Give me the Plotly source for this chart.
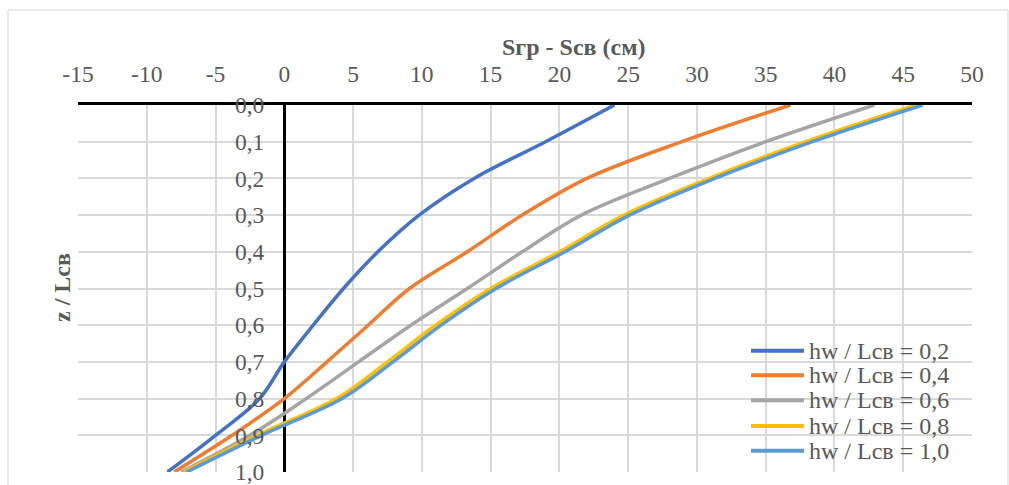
import plotly.graph_objects as go

z_vals = [0.0, 0.1, 0.2, 0.3, 0.4, 0.5, 0.6, 0.7, 0.8, 0.9, 1.0]
s_02 = [24.0, 19.0, 13.8, 9.8, 6.8, 4.3, 2.1, 0.0, -1.8, -5.0, -8.5]
s_04 = [36.8, 28.9, 22.0, 17.3, 13.3, 9.1, 6.1, 3.1, 0.0, -3.8, -8.0]
s_06 = [42.9, 35.0, 28.0, 21.6, 17.3, 13.3, 9.2, 5.4, 1.6, -2.5, -7.5]
s_08 = [45.9, 37.9, 30.9, 24.7, 20.0, 15.0, 11.0, 7.5, 3.8, -2.0, -7.3]
s_10 = [46.4, 38.4, 31.3, 25.1, 20.4, 15.4, 11.4, 7.9, 4.2, -1.65, -7.1]

series_names = ["hw / Lсв = 0,2", "hw / Lсв = 0,4", "hw / Lсв = 0,6",
                "hw / Lсв = 0,8", "hw / Lсв = 1,0"]
series_vals = [s_02, s_04, s_06, s_08, s_10]
colors = ["#4472C4", "#ED7D31", "#A5A5A5", "#FFC000", "#5B9BD5"]

x_tickvals = [-15, -10, -5, 0, 5, 10, 15, 20, 25, 30, 35, 40, 45, 50]
x_ticktext = ["-15", "-10", "-5", "0", "5", "10", "15", "20", "25", "30", "35", "40", "45", "50"]
y_tickvals = [0.0, 0.1, 0.2, 0.3, 0.4, 0.5, 0.6, 0.7, 0.8, 0.9, 1.0]
y_ticktext = ["0,0", "0,1", "0,2", "0,3", "0,4", "0,5", "0,6", "0,7", "0,8", "0,9", "1,0"]

x_title = "Sгр - Sсв (см)"
y_title = "z / Lсв"

W, H = 1009, 485
ML, MR, MT, MB = 78, 37, 105, 13
PW, PH = W - ML - MR, H - MT - MB

def px_x(p):
    return (p - ML) / PW

def px_y(p):
    return (H - MB - p) / PH

FONT = "Liberation Serif"
GRAY = "#595959"

fig = go.Figure()
for name, vals, col in zip(series_names, series_vals, colors):
    fig.add_trace(go.Scatter(x=vals, y=z_vals, mode="lines", name=name,
                             line=dict(color=col, width=3.5, shape="spline", smoothing=1.0),
                             showlegend=False))

shapes = []
annotations = []
# chart border
shapes.append(dict(type="rect", xref="paper", yref="paper",
                   x0=px_x(8), x1=px_x(1008), y0=px_y(490), y1=px_y(10),
                   line=dict(color="#d9d9d9", width=1), layer="below"))

# manual legend
leg_y = [350.7, 375.3, 400.3, 426.0, 450.7]
for name, col, yy in zip(series_names, colors, leg_y):
    shapes.append(dict(type="line", xref="paper", yref="paper",
                       x0=px_x(751), x1=px_x(804), y0=px_y(yy), y1=px_y(yy),
                       line=dict(color=col, width=4)))
    annotations.append(dict(x=px_x(807), y=px_y(yy), xref="paper", yref="paper",
                            text=name, showarrow=False, xanchor="left", yanchor="middle",
                            font=dict(family=FONT, size=24, color=GRAY)))

annotations.append(dict(x=px_x(574), y=px_y(47), xref="paper", yref="paper",
                        text="<b>" + x_title + "</b>", showarrow=False,
                        xanchor="center", yanchor="middle",
                        font=dict(family=FONT, size=24, color=GRAY)))
annotations.append(dict(x=px_x(62), y=px_y(288), xref="paper", yref="paper",
                        text="<b>" + y_title + "</b>", showarrow=False, textangle=-90,
                        xanchor="center", yanchor="middle",
                        font=dict(family=FONT, size=24, color=GRAY)))

fig.update_layout(
    width=W, height=H,
    margin=dict(l=ML, r=MR, t=MT, b=MB, autoexpand=False),
    paper_bgcolor="white", plot_bgcolor="white",
    showlegend=False,
    shapes=shapes, annotations=annotations,
    xaxis=dict(range=[-15, 50], side="top", tickvals=x_tickvals, ticktext=x_ticktext,
               showgrid=True, gridcolor="#d9d9d9", gridwidth=2,
               showline=True, linecolor="black", linewidth=2.5,
               zeroline=True, zerolinecolor="black", zerolinewidth=2.5,
               ticks="", ticklabelstandoff=11, ticklabeloverflow="allow",
               automargin=False,
               tickfont=dict(family=FONT, size=23.5, color=GRAY)),
    yaxis=dict(range=[1.0, 0.0], tickvals=y_tickvals, ticktext=y_ticktext,
               anchor="free", position=15 / 65,
               showgrid=True, gridcolor="#d9d9d9", gridwidth=2,
               showline=False, zeroline=False, ticks="",
               ticklabelstandoff=20, ticklabeloverflow="allow",
               automargin=False,
               tickfont=dict(family=FONT, size=23.5, color=GRAY)),
)

fig.write_html("out.html")
